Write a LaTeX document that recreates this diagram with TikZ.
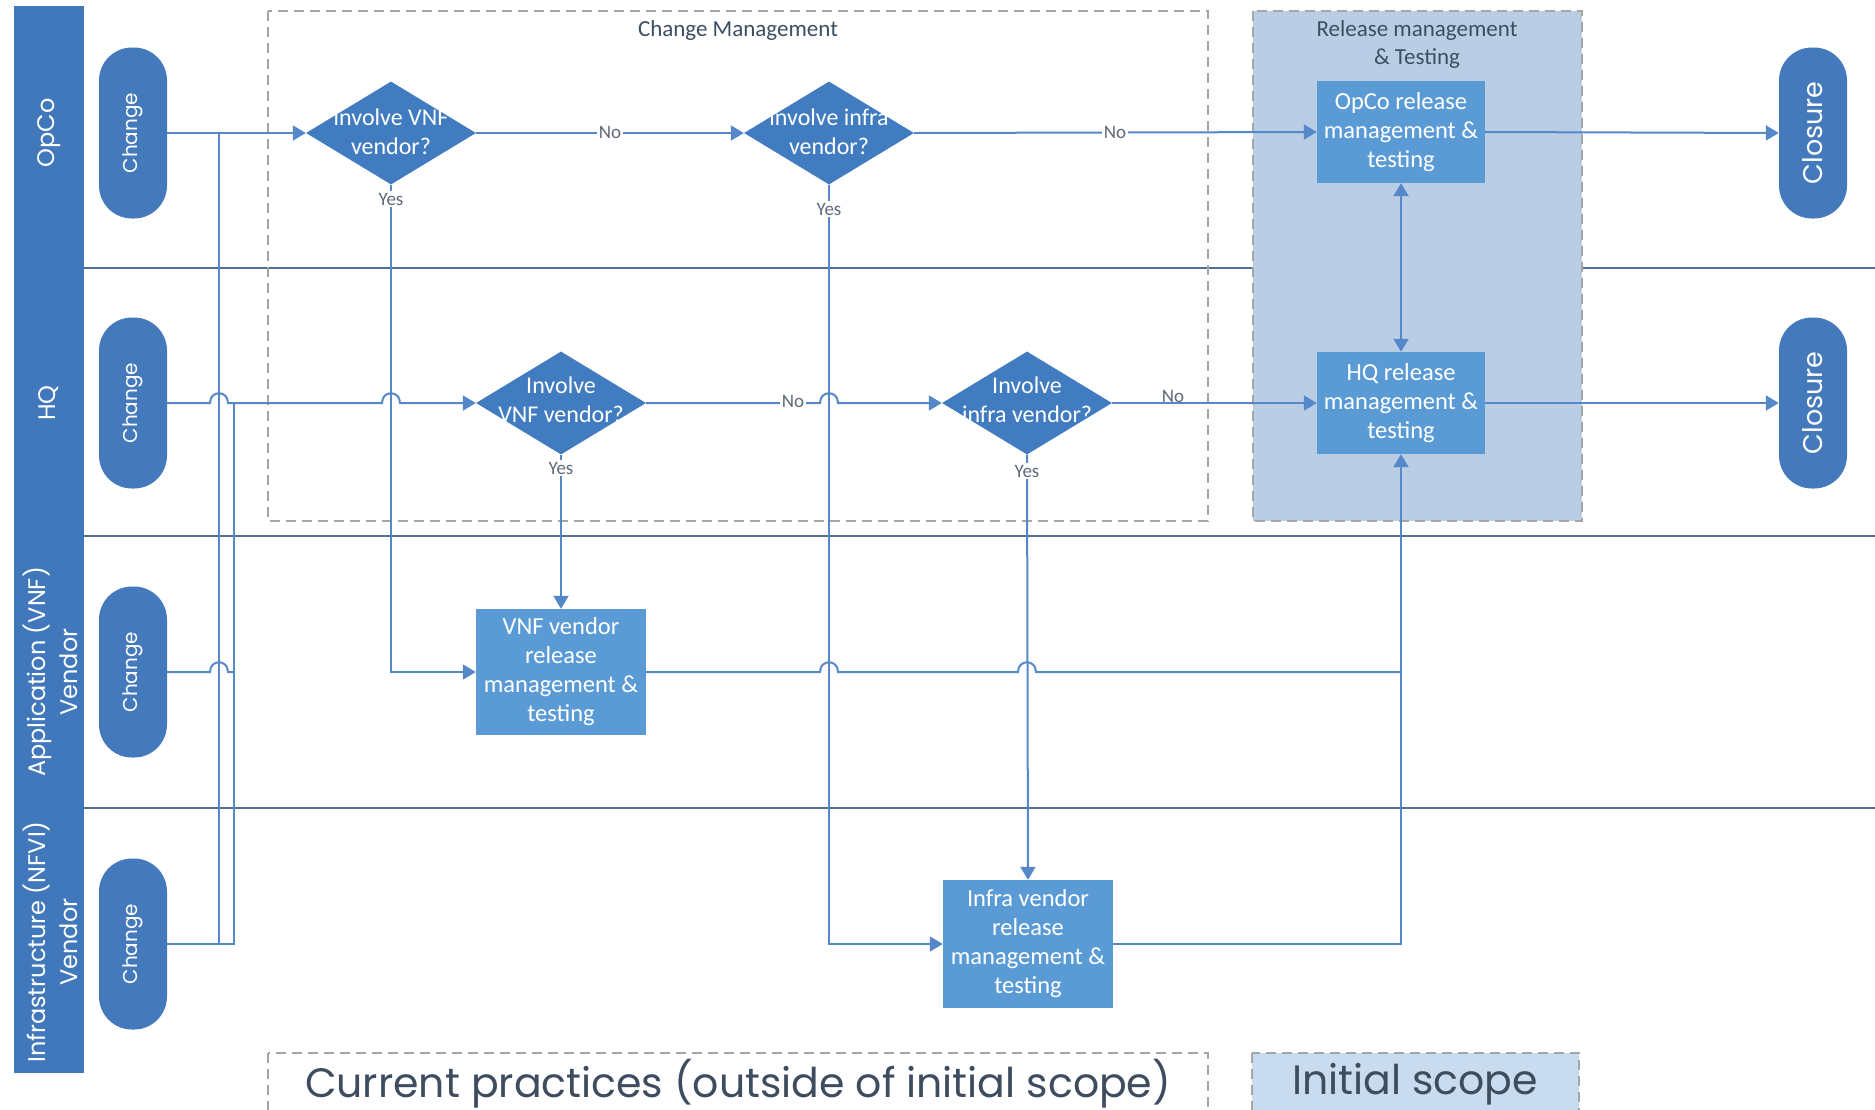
\documentclass[tikz,border=0pt]{standalone}
\usepackage{fontspec}
\setmainfont{Carlito}
\newfontfamily\gothic{Poppins}
\usetikzlibrary{shapes.geometric,arrows.meta,calc}
\definecolor{hdrblue}{RGB}{65,120,187}
\definecolor{pillblue}{RGB}{68,122,187}
\definecolor{diablue}{RGB}{66,124,192}
\definecolor{boxblue}{RGB}{91,155,213}
\definecolor{lnblue}{RGB}{84,136,200}
\definecolor{sepblue}{RGB}{82,112,150}
\definecolor{relfill}{RGB}{185,205,229}
\definecolor{legfill}{RGB}{201,219,238}
\definecolor{dashgray}{RGB}{165,165,165}
\definecolor{ttlcol}{RGB}{60,78,100}
\definecolor{lblgray}{RGB}{95,105,120}
\definecolor{legtext}{RGB}{62,76,96}
\begin{document}
\begin{tikzpicture}[x=1pt,y=-1pt,
 flow/.style={draw=lnblue,line width=2pt},
 arr/.style={-{Triangle[length=13pt,width=15pt]}},
 darr/.style={{Triangle[length=13pt,width=15pt]}-{Triangle[length=13pt,width=15pt]}},
 sepline/.style={draw=sepblue,line width=2pt},
 pillbox/.style={fill=pillblue,rounded corners=33pt,minimum width=68pt,minimum height=171pt,inner sep=0pt,text=white,font=\gothic\fontsize{20}{24}\selectfont},
 closebox/.style={pillbox,font=\gothic\fontsize{27}{32}\selectfont},
 dia/.style={diamond,fill=diablue,minimum width=170pt,minimum height=103pt,inner sep=0pt},
 dtext/.style={text=white,align=center,font=\fontsize{24}{29}\selectfont,inner sep=0pt},
 task/.style={rectangle,fill=boxblue,minimum width=168pt,minimum height=102pt,inner sep=0pt,text=white,align=center,font=\fontsize{24.5}{29}\selectfont},
 lbl/.style={fill=white,text=lblgray,font=\fontsize{19}{21}\selectfont,inner sep=1.5pt},
 lanetext/.style={rotate=90,text=white,align=center,font=\gothic\fontsize{24}{32}\selectfont},
 ttl/.style={text=ttlcol,align=center,font=\fontsize{23}{28}\selectfont},
 dashbox/.style={draw=dashgray,line width=1.5pt,dash pattern=on 10pt off 6pt},
 hopover/.style={insert path={-- ([xshift=-9pt]#1) .. controls ([xshift=-9pt,yshift=13pt]#1) and ([xshift=9pt,yshift=13pt]#1) .. ([xshift=9pt]#1)}},
]
\useasboundingbox (0,0) rectangle (1875,1109);
\begin{scope}
\clip (0,0) rectangle (1875,1109);
\fill[white] (0,0) rectangle (1875,1109);

% lane header bar
\fill[hdrblue] (14,6) rectangle (84,1073);
% lane separators
\draw[sepline] (84,268) -- (1875,268);
\draw[sepline] (84,536) -- (1875,536);
\draw[sepline] (84,808) -- (1875,808);

% scope boxes
\draw[dashbox] (268,11) rectangle (1208,521);
\draw[dashbox,fill=relfill] (1253,11) rectangle (1582,521);
\node[ttl] (tcm) at (738,30) {Change Management};
\node[ttl] (trm) at (1417,44) {Release management\\\& Testing};

% lane labels
\node[lanetext] (lopco) at (49,133) {OpCo};
\node[lanetext] (lhq) at (49,403) {HQ};
\node[lanetext] (lvnf) at (50,672) {Application (VNF)\\Vendor};
\node[lanetext] (lnfvi) at (50,942) {Infrastructure (NFVI)\\Vendor};

% start pills
\node[pillbox] (oc) at (133,133) {\rotatebox{90}{Change}};
\node[pillbox] (hc) at (133,403) {\rotatebox{90}{Change}};
\node[pillbox] (vc) at (133,672) {\rotatebox{90}{Change}};
\node[pillbox] (nc) at (133,944) {\rotatebox{90}{Change}};
% closure pills
\node[closebox] (ocl) at (1813,133) {\rotatebox{90}{Closure}};
\node[closebox] (hcl) at (1813,403) {\rotatebox{90}{Closure}};

% decisions
\node[dia] (oy1) at (391,133) {};
\node[dtext] (oy1t) at (391,132) {involve VNF\\vendor?};
\node[dia] (oy2) at (829,133) {};
\node[dtext] (oy2t) at (829,132) {involve infra\\vendor?};
\node[dia] (hy1) at (561,403) {};
\node[dtext] (hy1t) at (561,400) {Involve\\VNF vendor?};
\node[dia] (hy2) at (1027,403) {};
\node[dtext] (hy2t) at (1027,400) {Involve\\infra vendor?};

% tasks
\node[task] (ob) at (1401,132) {OpCo release\\management \&\\testing};
\node[task] (hb) at (1401,403) {HQ release\\management \&\\testing};
\node[task,minimum width=170pt,minimum height=126pt] (vb) at (561,672) {VNF vendor\\release\\management \&\\testing};
\node[task,minimum width=170pt,minimum height=128pt] (ib) at (1028,944) {Infra vendor\\release\\management \&\\testing};

% junction coordinates
\coordinate (A1) at (219,133);
\coordinate (A2) at (219,944);
\coordinate (B1) at (234,403);
\coordinate (B2) at (234,944);
\coordinate (B3) at (234,672);
\coordinate (hA3) at (219,672);
\coordinate (hA4) at (219,403);
\coordinate (hO1) at (391,403);
\coordinate (hO2) at (829,403);
\coordinate (v1) at (829,672);
\coordinate (v2) at (1027,672);
\coordinate (J1) at (1401,672);

% connectors
\draw[flow,arr] (oc.east) -- (oy1.west);
\draw[flow] (A2) -- (A1);
\draw[flow] (nc.east) -- (B2) -- (B1);
\draw[flow] (vc.east) [hopover=hA3] -- (B3);
\draw[flow,arr] (hc.east) [hopover=hA4] [hopover=hO1] -- (hy1.west);
\draw[flow,arr] (oy1.east) -- (oy2.west);
\draw[flow,arr] (oy2.east) -- (ob.west);
\draw[flow,arr] (ob.east) -- (ocl.west);
\draw[flow,arr] (hy1.east) [hopover=hO2] -- (hy2.west);
\draw[flow,arr] (hy2.east) -- (hb.west);
\draw[flow,arr] (hb.east) -- (hcl.west);
\draw[flow,arr] (oy1.south) |- (vb.west);
\draw[flow,arr] (oy2.south) |- (ib.west);
\draw[flow,arr] (hy1.south) -- (vb.north);
\draw[flow,arr] (hy2.south) -- (ib.north);
\draw[flow] (vb.east) [hopover=v1] [hopover=v2] -- (J1);
\draw[flow,arr] (ib.east) -| (hb.south);
\draw[flow,darr] (ob.south) -- (hb.north);

% labels
\node[lbl] (y1) at (391,199) {Yes};
\node[lbl] (y2) at (829,209) {Yes};
\node[lbl] (y3) at (561,468) {Yes};
\node[lbl] (y4) at (1027,471) {Yes};
\node[lbl] (n1) at (610,132) {No};
\node[lbl] (n2) at (1115,132) {No};
\node[lbl] (n3) at (793,401) {No};
\node[lbl,fill=none] (n4) at (1173,396) {No};

% legend
\draw[dashbox] (268,1053) rectangle (1208,1130);
\draw[dashbox,fill=legfill] (1252,1053) rectangle (1579,1130);
\node[text=legtext,font=\gothic\fontsize{41}{48}\selectfont] (legcur) at (738,1084) {Current practices (outside of initial scope)};
\node[text=legtext,font=\gothic\fontsize{41}{48}\selectfont] (legini) at (1415,1084) {Initial scope};
\end{scope}
\end{tikzpicture}
\end{document}
